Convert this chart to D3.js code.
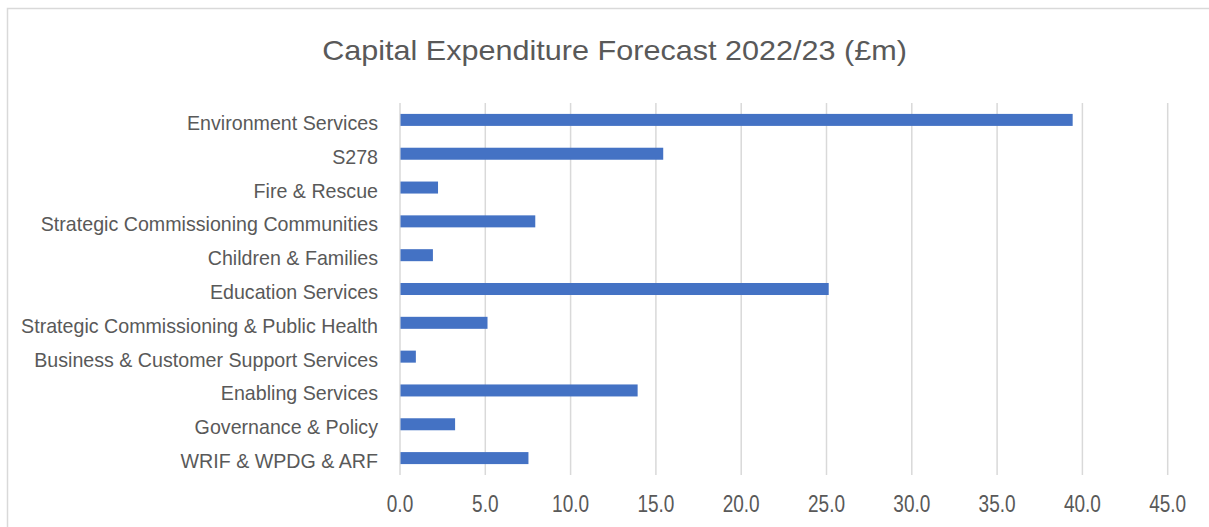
<!DOCTYPE html>
<html><head><meta charset="utf-8">
<script src="https://cdn.jsdelivr.net/npm/d3@7"></script>
<style>body{margin:0;background:#fff}svg{display:block}</style>
</head><body>
<svg id="c" width="1209" height="527"></svg>
<script>
const categories = ["Environment Services","S278","Fire & Rescue","Strategic Commissioning Communities","Children & Families","Education Services","Strategic Commissioning & Public Health","Business & Customer Support Services","Enabling Services","Governance & Policy","WRIF & WPDG & ARF"];
const values = [39.4,15.4,2.2,7.9,1.9,25.1,5.1,0.9,13.9,3.2,7.5];
const tickValues = [0,5,10,15,20,25,30,35,40,45];
const title = "Capital Expenditure Forecast 2022/23 (£m)";

const svg = d3.select("#c");
const font = "'Liberation Sans', Arial, sans-serif";
const txt = "#595959";
// chart border
svg.append("path").attr("d","M7.5,527 L7.5,8.5 L1209,8.5").attr("fill","none").attr("stroke","#d9d9d9").attr("stroke-width",1.5);

const x = d3.scaleLinear().domain([0,45]).range([400,1167.7]);
const y = d3.scaleBand().domain(categories).range([103,475]).paddingInner(0.645).paddingOuter(0.3225);

function squeeze(sel, target, ref){
  // horizontal condensation to match the reference typeface width
  const w = ref.node().getComputedTextLength();
  return target / w;
}

// gridlines
svg.append("g").selectAll("line").data(tickValues).join("line")
  .attr("x1",d=>x(d)).attr("x2",d=>x(d)).attr("y1",103).attr("y2",475)
  .attr("stroke","#d9d9d9").attr("stroke-width",1.5);

// bars
svg.append("g").selectAll("rect").data(values).join("rect")
  .attr("x",x(0)+0.5).attr("y",(d,i)=>y(categories[i]))
  .attr("width",d=>x(d)-x(0)).attr("height",y.bandwidth())
  .attr("fill","#4472c4");

// category labels
const lg = svg.append("g").attr("font-family",font).attr("font-size",21).attr("fill",txt);
const labs = lg.selectAll("text").data(categories).join("text").attr("text-anchor","end").text(d=>d);
const refL = labs.filter(d=>d==="Strategic Commissioning & Public Health");
const sl = squeeze(labs, 357, refL);
labs.attr("transform",d=>`translate(378,${y(d)+y.bandwidth()/2+10}) scale(${sl},1)`);

// tick labels
const tg = svg.append("g").attr("font-family",font).attr("font-size",23).attr("fill",txt);
const ticks = tg.selectAll("text").data(tickValues).join("text").attr("text-anchor","middle").text(d=>d.toFixed(1));
const st = squeeze(ticks, 37, ticks.filter(d=>d===45));
ticks.attr("transform",d=>`translate(${x(d)},512) scale(${st},1)`);

// title
const t = svg.append("text").attr("font-family",font).attr("font-size",28).attr("fill",txt).attr("text-anchor","middle").text(title);
const s2 = 585 / t.node().getComputedTextLength();
t.attr("transform",`translate(614.5,60) scale(${s2},1)`);
</script>
</body></html>
